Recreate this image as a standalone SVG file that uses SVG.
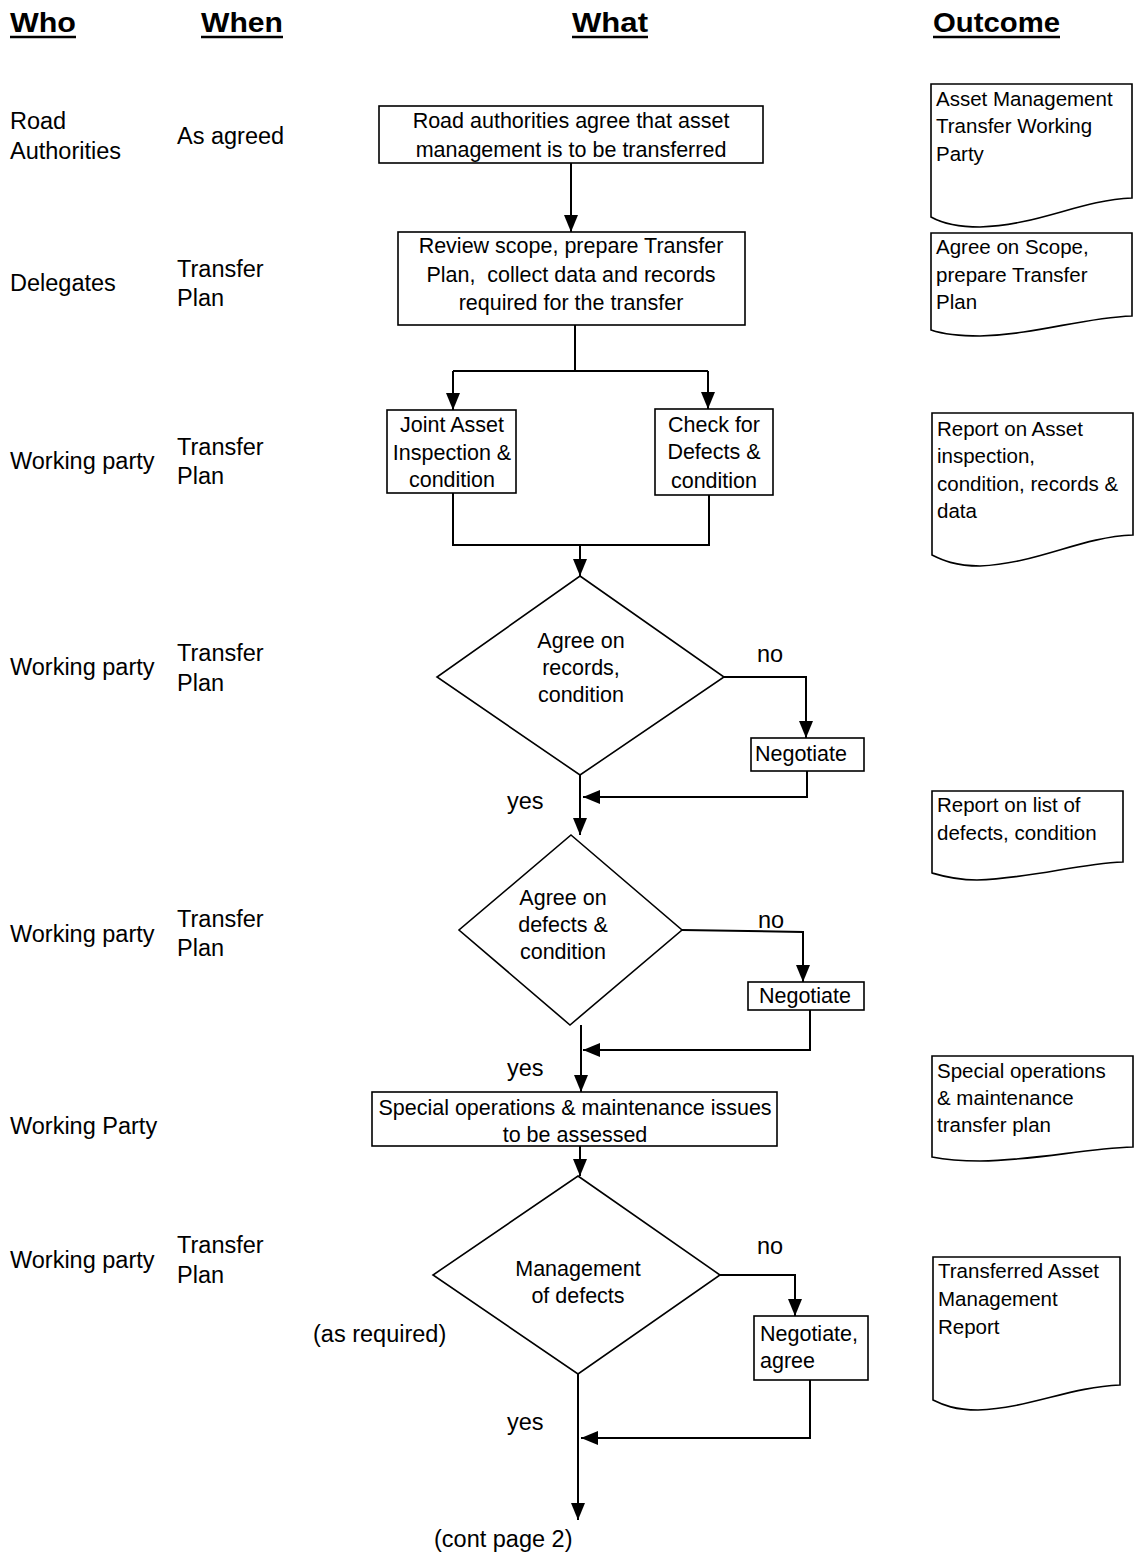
<svg xmlns="http://www.w3.org/2000/svg" width="1134" height="1553" viewBox="0 0 1134 1553">
<defs>
<style>
text{font-family:"Liberation Sans",Arial,sans-serif;fill:#000}
.hd{font-size:27px;font-weight:bold}
.lb{font-size:23.5px}
.bx{font-size:21.5px;text-anchor:middle}
.dc{font-size:20.5px}
.yn{font-size:23.5px}
.shape{fill:#fff;stroke:#000;stroke-width:1.6}
.ul{stroke:#000;stroke-width:2.5}
.cn{fill:none;stroke:#000;stroke-width:2}
.ar{marker-end:url(#ah)}
</style>
<marker id="ah" viewBox="0 0 17 14" refX="17" refY="7" markerWidth="17" markerHeight="14" markerUnits="userSpaceOnUse" orient="auto">
<path d="M0,0 L17,7 L0,14 z" fill="#000"/>
</marker>
</defs>
<rect width="1134" height="1553" fill="#fff"/>

<g id="headers">
<text class="hd" x="10" y="32" textLength="66" lengthAdjust="spacingAndGlyphs">Who</text>
<line class="ul" x1="10" y1="37" x2="76" y2="37"/>
<text class="hd" x="201" y="32" textLength="82" lengthAdjust="spacingAndGlyphs">When</text>
<line class="ul" x1="201" y1="37" x2="283" y2="37"/>
<text class="hd" x="572" y="32" textLength="76" lengthAdjust="spacingAndGlyphs">What</text>
<line class="ul" x1="572" y1="37" x2="648" y2="37"/>
<text class="hd" x="933" y="32" textLength="127" lengthAdjust="spacingAndGlyphs">Outcome</text>
<line class="ul" x1="933" y1="37" x2="1060" y2="37"/>
</g>

<g id="who-when">
<text class="lb" x="10" y="129">Road</text>
<text class="lb" x="10" y="159">Authorities</text>
<text class="lb" x="177" y="144">As agreed</text>
<text class="lb" x="10" y="291">Delegates</text>
<text class="lb" x="177" y="277">Transfer</text>
<text class="lb" x="177" y="306">Plan</text>
<text class="lb" x="10" y="469">Working party</text>
<text class="lb" x="177" y="455">Transfer</text>
<text class="lb" x="177" y="484">Plan</text>
<text class="lb" x="10" y="675">Working party</text>
<text class="lb" x="177" y="661">Transfer</text>
<text class="lb" x="177" y="691">Plan</text>
<text class="lb" x="10" y="942">Working party</text>
<text class="lb" x="177" y="927">Transfer</text>
<text class="lb" x="177" y="956">Plan</text>
<text class="lb" x="10" y="1134">Working Party</text>
<text class="lb" x="10" y="1268">Working party</text>
<text class="lb" x="177" y="1253">Transfer</text>
<text class="lb" x="177" y="1283">Plan</text>
<text class="lb" x="313" y="1342">(as required)</text>
</g>

<g id="connectors">
<path class="cn ar" d="M571,163 V232"/>
<path class="cn" d="M575,325 V371 M453,371 H708"/>
<path class="cn ar" d="M453,371 V410"/>
<path class="cn ar" d="M708,371 V409"/>
<path class="cn" d="M453,493 V545 H709 V495"/>
<path class="cn ar" d="M580,545 V576"/>
<path class="cn ar" d="M724,677 H806 V738"/>
<path class="cn ar" d="M807,771 V797 H583"/>
<path class="cn ar" d="M580,775 V835"/>
<path class="cn ar" d="M682,930 L803,932 V982"/>
<path class="cn ar" d="M810,1010 V1050 H583"/>
<path class="cn ar" d="M581,1025 V1092"/>
<path class="cn ar" d="M580,1146 V1176"/>
<path class="cn ar" d="M720,1275 H795 V1316"/>
<path class="cn ar" d="M810,1380 V1438 H581"/>
<path class="cn ar" d="M578,1374 V1520"/>
</g>

<g id="n1">
<rect class="shape" x="379" y="106" width="384" height="57"/>
<text class="bx" x="571" y="128">Road authorities agree that asset</text>
<text class="bx" x="571" y="157">management is to be transferred</text>
</g>
<g id="n2">
<rect class="shape" x="398" y="232" width="347" height="93"/>
<text class="bx" x="571" y="253">Review scope, prepare Transfer</text>
<text class="bx" x="571" y="282" xml:space="preserve">Plan,  collect data and records</text>
<text class="bx" x="571" y="310">required for the transfer</text>
</g>
<g id="n3">
<rect class="shape" x="387" y="410" width="129" height="83"/>
<text class="bx" x="452" y="432">Joint Asset</text>
<text class="bx" x="452" y="460">Inspection &amp;</text>
<text class="bx" x="452" y="487">condition</text>
</g>
<g id="n4">
<rect class="shape" x="655" y="409" width="118" height="86"/>
<text class="bx" x="714" y="432">Check for</text>
<text class="bx" x="714" y="459">Defects &amp;</text>
<text class="bx" x="714" y="488">condition</text>
</g>
<g id="d1">
<polygon class="shape" points="580,576 724,677 580,775 437,677"/>
<text class="bx" x="581" y="648">Agree on</text>
<text class="bx" x="581" y="675">records,</text>
<text class="bx" x="581" y="702">condition</text>
</g>
<text class="yn" x="757" y="662">no</text>
<g id="neg1">
<rect class="shape" x="751" y="738" width="113" height="33"/>
<text class="bx" x="801" y="761">Negotiate</text>
</g>
<text class="yn" x="507" y="809">yes</text>
<g id="d2">
<polygon class="shape" points="571,835 682,930 570,1025 459,930"/>
<text class="bx" x="563" y="905">Agree on</text>
<text class="bx" x="563" y="932">defects &amp;</text>
<text class="bx" x="563" y="959">condition</text>
</g>
<text class="yn" x="758" y="928">no</text>
<g id="neg2">
<rect class="shape" x="748" y="982" width="116" height="28"/>
<text class="bx" x="805" y="1003">Negotiate</text>
</g>
<text class="yn" x="507" y="1076">yes</text>
<g id="n5">
<rect class="shape" x="372" y="1092" width="405" height="54"/>
<text class="bx" x="575" y="1115">Special operations &amp; maintenance issues</text>
<text class="bx" x="575" y="1142">to be assessed</text>
</g>
<g id="d3">
<polygon class="shape" points="578,1176 720,1275 578,1374 433,1275"/>
<text class="bx" x="578" y="1276">Management</text>
<text class="bx" x="578" y="1303">of defects</text>
</g>
<text class="yn" x="757" y="1254">no</text>
<g id="neg3">
<rect class="shape" x="754" y="1316" width="114" height="64"/>
<text class="dc" x="760" y="1341" style="font-size:21.5px">Negotiate,</text>
<text class="dc" x="760" y="1368" style="font-size:21.5px">agree</text>
</g>
<text class="yn" x="507" y="1430">yes</text>
<text class="lb" x="434" y="1547">(cont page 2)</text>

<g id="doc1">
<path class="shape" d="M931,84 H1132 V198 C1080,200 1040,225 980,227 C955,227 940,222 931,217 Z"/>
<text class="dc" x="936" y="106">Asset Management</text>
<text class="dc" x="936" y="133">Transfer Working</text>
<text class="dc" x="936" y="161">Party</text>
</g>
<g id="doc2">
<path class="shape" d="M931,233 H1132 V316 C1080,318 1040,334 980,336 C955,336 940,333 931,330 Z"/>
<text class="dc" x="936" y="254">Agree on Scope,</text>
<text class="dc" x="936" y="282">prepare Transfer</text>
<text class="dc" x="936" y="309">Plan</text>
</g>
<g id="doc3">
<path class="shape" d="M932,413 H1133 V535 C1080,537 1040,563 980,566 C955,566 942,560 932,555 Z"/>
<text class="dc" x="937" y="436">Report on Asset</text>
<text class="dc" x="937" y="463">inspection,</text>
<text class="dc" x="937" y="491">condition, records &amp;</text>
<text class="dc" x="937" y="518">data</text>
</g>
<g id="doc4">
<path class="shape" d="M932,791 H1123 V862 C1075,864 1035,878 977,880 C955,880 942,876 932,873 Z"/>
<text class="dc" x="937" y="812">Report on list of</text>
<text class="dc" x="937" y="840">defects, condition</text>
</g>
<g id="doc5">
<path class="shape" d="M932,1056 H1133 V1147 C1080,1149 1040,1160 980,1161 C955,1161 942,1159 932,1157 Z"/>
<text class="dc" x="937" y="1078">Special operations</text>
<text class="dc" x="937" y="1105">&amp; maintenance</text>
<text class="dc" x="937" y="1132">transfer plan</text>
</g>
<g id="doc6">
<path class="shape" d="M933,1257 H1120 V1385 C1070,1387 1030,1408 978,1410 C955,1410 943,1405 933,1400 Z"/>
<text class="dc" x="938" y="1278">Transferred Asset</text>
<text class="dc" x="938" y="1306">Management</text>
<text class="dc" x="938" y="1334">Report</text>
</g>
</svg>
